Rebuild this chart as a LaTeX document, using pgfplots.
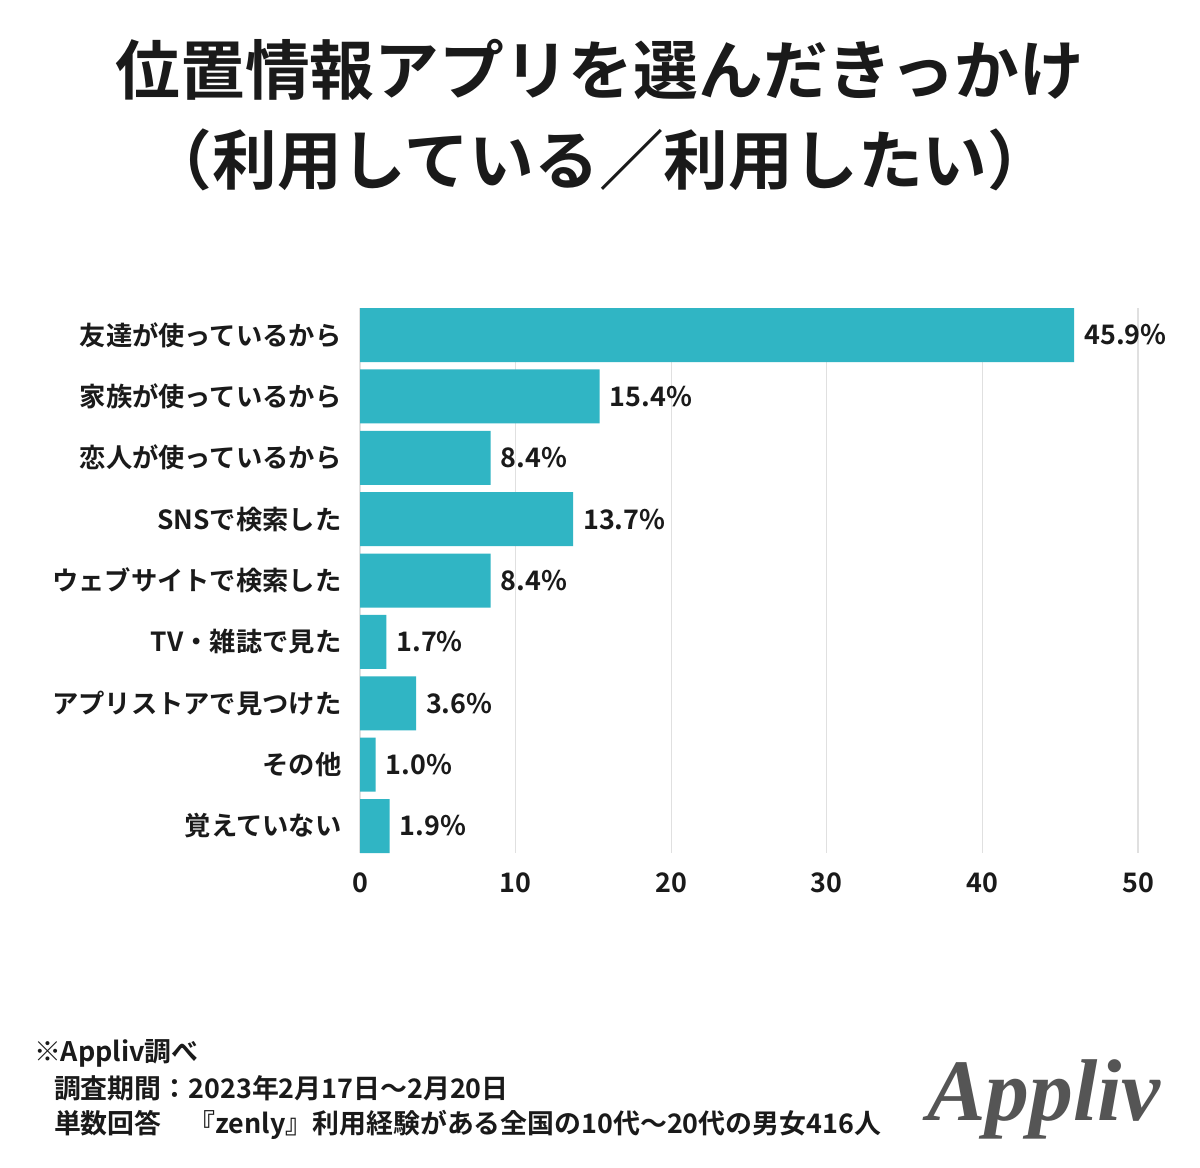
\documentclass[border=0pt]{standalone}
\usepackage{fontspec}
\setmainfont{Noto Sans CJK JP}[BoldFont={Noto Sans CJK JP Bold}]
\newfontfamily\logofont{Liberation Serif}
\usepackage{pgfplots}
\pgfplotsset{compat=1.18}
\definecolor{barteal}{RGB}{48,181,196}
\definecolor{gridgray}{RGB}{224,224,224}
\definecolor{txt}{RGB}{26,26,26}
\definecolor{logogray}{RGB}{85,85,85}

\begin{document}
\begin{tikzpicture}[x=1bp,y=1bp]
  \fill[white] (0,0) rectangle (600,-584);
  % title
  \node[font=\fontsize{32.5}{36}\selectfont\bfseries, text=txt] at (300,-35) {位置情報アプリを選んだきっかけ};
  \node[font=\fontsize{32.5}{36}\selectfont\bfseries, text=txt] at (300,-80) {（利用している／利用したい）};

  \begin{axis}[
      at={(180bp,-154bp)}, anchor=north west,
      scale only axis,
      width=389bp, height=272.5bp,
      xbar, bar width=0.88,
      y dir=reverse,
      xmin=0, xmax=50,
      ymin=-0.44, ymax=8.44,
      xtick={0,10,20,30,40,50},
      ytick={0,...,8},
      yticklabels={友達が使っているから,家族が使っているから,恋人が使っているから,SNSで検索した,ウェブサイトで検索した,TV・雑誌で見た,アプリストアで見つけた,その他,覚えていない},
      axis line style={draw=none},
      tick style={draw=none},
      xmajorgrids=true,
      grid style={gridgray, line width=0.6pt},
      /pgf/number format/assume math mode=true,
      ticklabel style={font=\fontsize{13.5}{15}\selectfont\bfseries, text=txt},
      yticklabel style={font=\fontsize{13.2}{15}\selectfont\bfseries, xshift=-1.5bp},
      xticklabel style={yshift=-6.5bp},
      nodes near coords={\pgfmathprintnumber[fixed,fixed zerofill,precision=1]{\pgfplotspointmeta}\%},
      nodes near coords style={font=\fontsize{13.5}{15}\selectfont\bfseries, text=txt, anchor=west, xshift=1.5bp},
    ]
    \addplot[fill=barteal, draw=none] coordinates {
      (45.9,0) (15.4,1) (8.4,2) (13.7,3) (8.4,4) (1.7,5) (3.6,6) (1.0,7) (1.9,8)
    };
  \end{axis}

  % footer
  \node[anchor=west, font=\fontsize{13.5}{15}\selectfont\bfseries, text=txt] at (13.5,-526.5) {※Appliv調べ};
  \node[anchor=west, font=\fontsize{13.5}{15}\selectfont\bfseries, text=txt] at (23.5,-544) {調査期間：2023年2月17日〜2月20日};
  \node[anchor=west, font=\fontsize{13.5}{15}\selectfont\bfseries, text=txt] at (23.5,-562.5) {単数回答　『zenly』利用経験がある全国の10代〜20代の男女416人};
  % logo
  \node[anchor=base west, font=\logofont\fontsize{44}{48}\selectfont\bfseries\itshape, text=logogray] at (460,-560) {Appliv};
\end{tikzpicture}
\end{document}
